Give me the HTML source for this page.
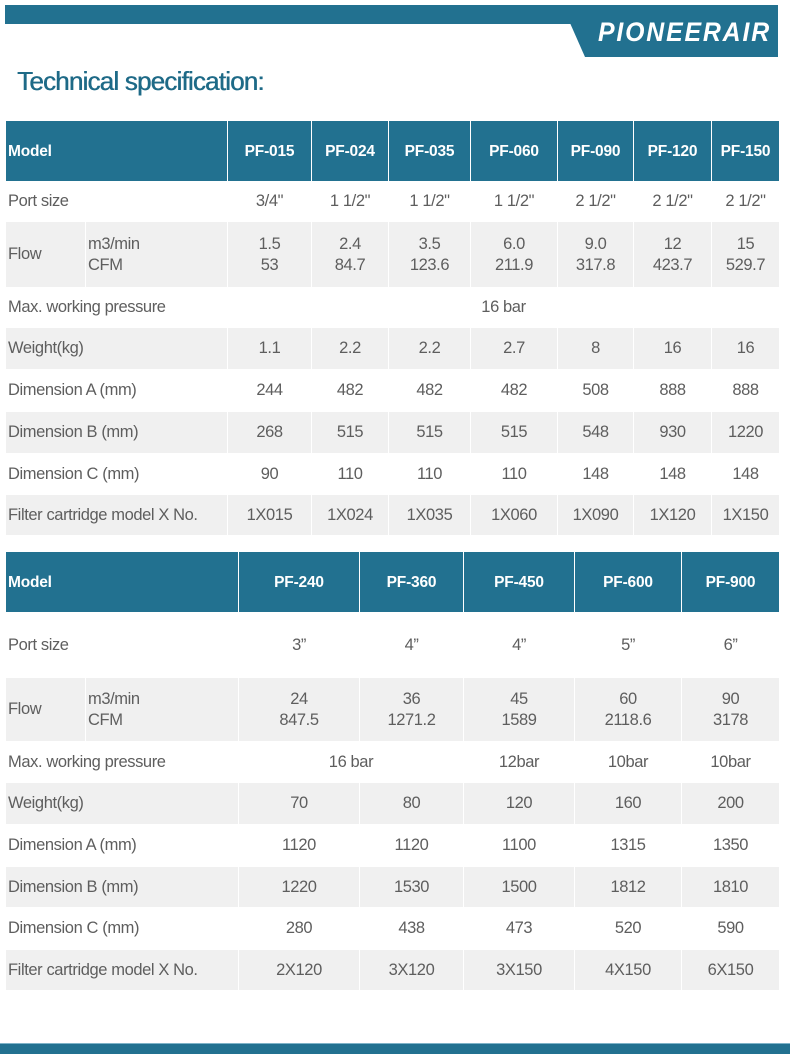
<!DOCTYPE html>
<html><head><meta charset="utf-8"><style>
body{margin:0;width:790px;height:1053px;background:#fff;position:relative;overflow:hidden;font-family:"Liberation Sans",sans-serif;}
.abs{position:absolute}
table{position:absolute;left:5px;border-collapse:collapse;table-layout:fixed;width:774px;font-size:16.5px;color:#5e5e5e;letter-spacing:-0.4px}
td{border:1px solid #fff;padding:0;text-align:center;white-space:nowrap;line-height:21px}
td.l{text-align:left;padding-left:2px}
tr.h td{background:#227190;color:#fff;font-weight:bold;font-size:15.5px;letter-spacing:-0.2px}
tr.g td{background:#f0f0f0}
</style></head><body>
<div class="abs" style="left:5px;top:5px;width:773px;height:19px;background:#227190"></div>
<svg class="abs" style="left:0;top:0" width="790" height="60"><polygon points="570,23 778,23 778,57 585,57" fill="#227190"/></svg>
<div class="abs" style="left:598px;top:17px;width:180px;color:#fff;font-weight:bold;font-style:italic;font-size:27px;letter-spacing:2px;transform:scaleX(0.92);transform-origin:left">PIONEERAIR</div>
<div class="abs" style="left:17px;top:66px;color:#1e6a87;font-size:26px;letter-spacing:-0.8px;text-shadow:0.5px 0 0 #1e6a87">Technical specification:</div>

<table style="top:120px">
<colgroup><col style="width:80px"><col style="width:142px"><col style="width:84px"><col style="width:77px"><col style="width:82px"><col style="width:87px"><col style="width:76px"><col style="width:78px"><col style="width:68px"></colgroup>
<tr class="h" style="height:61px"><td class="l" colspan="2">Model</td><td>PF-015</td><td>PF-024</td><td>PF-035</td><td>PF-060</td><td>PF-090</td><td>PF-120</td><td>PF-150</td></tr>
<tr style="height:40px"><td class="l" colspan="2">Port size</td><td>3/4"</td><td>1 1/2"</td><td>1 1/2"</td><td>1 1/2"</td><td>2 1/2"</td><td>2 1/2"</td><td>2 1/2"</td></tr>
<tr class="g" style="height:66px"><td class="l">Flow</td><td class="l">m3/min<br>CFM</td><td>1.5<br>53</td><td>2.4<br>84.7</td><td>3.5<br>123.6</td><td>6.0<br>211.9</td><td>9.0<br>317.8</td><td>12<br>423.7</td><td>15<br>529.7</td></tr>
<tr style="height:40px"><td class="l" colspan="2">Max. working pressure</td><td colspan="7">16 bar</td></tr>
<tr class="g" style="height:42px"><td class="l" colspan="2">Weight(kg)</td><td>1.1</td><td>2.2</td><td>2.2</td><td>2.7</td><td>8</td><td>16</td><td>16</td></tr>
<tr style="height:42px"><td class="l" colspan="2">Dimension A (mm)</td><td>244</td><td>482</td><td>482</td><td>482</td><td>508</td><td>888</td><td>888</td></tr>
<tr class="g" style="height:42px"><td class="l" colspan="2">Dimension B (mm)</td><td>268</td><td>515</td><td>515</td><td>515</td><td>548</td><td>930</td><td>1220</td></tr>
<tr style="height:41px"><td class="l" colspan="2">Dimension C (mm)</td><td>90</td><td>110</td><td>110</td><td>110</td><td>148</td><td>148</td><td>148</td></tr>
<tr class="g" style="height:41px"><td class="l" colspan="2">Filter cartridge model X No.</td><td>1X015</td><td>1X024</td><td>1X035</td><td>1X060</td><td>1X090</td><td>1X120</td><td>1X150</td></tr>
</table>

<table style="top:551px">
<colgroup><col style="width:80px"><col style="width:153px"><col style="width:121px"><col style="width:104px"><col style="width:111px"><col style="width:107px"><col style="width:98px"></colgroup>
<tr class="h" style="height:61px"><td class="l" colspan="2">Model</td><td>PF-240</td><td>PF-360</td><td>PF-450</td><td>PF-600</td><td>PF-900</td></tr>
<tr style="height:65px"><td class="l" colspan="2">Port size</td><td>3”</td><td>4”</td><td>4”</td><td>5”</td><td>6”</td></tr>
<tr class="g" style="height:64px"><td class="l">Flow</td><td class="l">m3/min<br>CFM</td><td>24<br>847.5</td><td>36<br>1271.2</td><td>45<br>1589</td><td>60<br>2118.6</td><td>90<br>3178</td></tr>
<tr style="height:41px"><td class="l" colspan="2">Max. working pressure</td><td colspan="2">16 bar</td><td>12bar</td><td>10bar</td><td>10bar</td></tr>
<tr class="g" style="height:42px"><td class="l" colspan="2">Weight(kg)</td><td>70</td><td>80</td><td>120</td><td>160</td><td>200</td></tr>
<tr style="height:42px"><td class="l" colspan="2">Dimension A (mm)</td><td>1120</td><td>1120</td><td>1100</td><td>1315</td><td>1350</td></tr>
<tr class="g" style="height:41px"><td class="l" colspan="2">Dimension B (mm)</td><td>1220</td><td>1530</td><td>1500</td><td>1812</td><td>1810</td></tr>
<tr style="height:42px"><td class="l" colspan="2">Dimension C (mm)</td><td>280</td><td>438</td><td>473</td><td>520</td><td>590</td></tr>
<tr class="g" style="height:41px"><td class="l" colspan="2">Filter cartridge model X No.</td><td>2X120</td><td>3X120</td><td>3X150</td><td>4X150</td><td>6X150</td></tr>
</table>

<div class="abs" style="left:0;top:1043px;width:790px;height:10px;background:#227190;border-top:1px solid #7fb3c8"></div>
</body></html>
